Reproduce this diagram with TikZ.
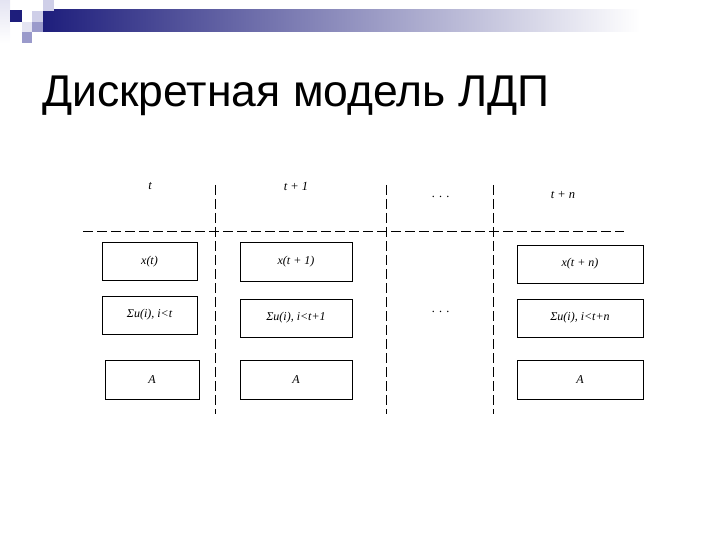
\documentclass[tikz,border=0pt]{standalone}
\usepackage{fontspec}
\setmainfont{Liberation Serif}
\newfontfamily\titlefont{Liberation Sans}
\definecolor{ldpnavy}{HTML}{1E1E7C}
\definecolor{ldplav}{HTML}{CFCFE8}
\definecolor{ldpmid}{HTML}{9A9ACB}
\definecolor{ldppale}{HTML}{E4E4F2}

\begin{document}
\begin{tikzpicture}[x=1pt,y=-1pt,
 cell/.style={draw,line width=0.9pt,minimum height=38pt,inner sep=0pt,font=\itshape\fontsize{12}{14}\selectfont},
 head/.style={inner sep=0pt,font=\itshape\fontsize{12.5}{14}\selectfont},
 grid/.style={dashed,line width=0.9pt,dash pattern=on 10pt off 4pt}
]
\useasboundingbox (0,0) rectangle (720,540);
% slide header
\shade[top color=ldppale,bottom color=white] (0,0) rectangle (10,43);
\shade[left color=ldpnavy,right color=white] (43,10) rectangle (640,32);
\fill[ldpnavy] (10,10) rectangle (22,22);
\fill[ldplav] (43,0) rectangle (54,11);
\fill[ldplav] (32,11) rectangle (43,22);
\fill[ldppale] (22,22) rectangle (32,32);
\fill[ldpmid] (32,22) rectangle (43,32);
\fill[ldpmid] (22,32) rectangle (32,43);
\node[anchor=base west,inner sep=0pt,font=\titlefont\fontsize{44.5}{50}\selectfont] (title) at (42,107) {Дискретная модель ЛДП};

% time columns
\node[head] (ht) at (150,186) {t};
\node[head] (ht1) at (296,186) {t + 1};
\node[head] (hdots) at (441,197) {. . .};
\node[head] (htn) at (563,195) {t + n};

\coordinate (hl) at (83,231.5);
\coordinate (hr) at (624,231.5);
\draw[grid] (hl) -- (hr);
\foreach \x [count=\i] in {215,386,493} {
 \coordinate (v\i t) at (\x,185);
 \coordinate (v\i b) at (\x,414);
 \draw[grid] (v\i t) -- (v\i b);
}

\node[cell,minimum width=95pt] (xt) at (149.5,261.5) {x(t)};
\node[cell,minimum width=95pt] (ut) at (149.5,315) {Σu(i), i<t};
\node[cell,minimum width=94pt,minimum height=39pt] (at) at (152,379.5) {A};

\node[cell,minimum width=112pt,minimum height=39pt] (xt1) at (296,261.5) {x(t + 1)};
\node[cell,minimum width=112pt] (ut1) at (296,318) {Σu(i), i<t+1};
\node[cell,minimum width=112pt,minimum height=39pt] (at1) at (296,379.5) {A};

\node[head] (mdots) at (441,312) {. . .};

\node[cell,minimum width=126pt] (xtn) at (580,264) {x(t + n)};
\node[cell,minimum width=126pt] (utn) at (580,318) {Σu(i), i<t+n};
\node[cell,minimum width=126pt,minimum height=39pt] (atn) at (580,379.5) {A};
\end{tikzpicture}
\end{document}
